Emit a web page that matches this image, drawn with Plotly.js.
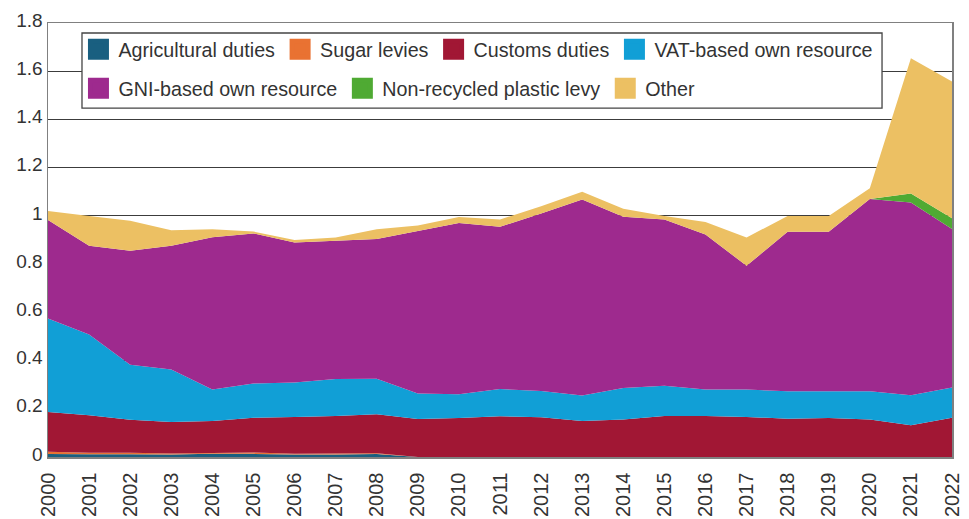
<!DOCTYPE html>
<html>
<head>
<meta charset="utf-8">
<script src="https://cdn.plot.ly/plotly-3.0.1.min.js"></script>
<style>html,body{margin:0;padding:0;background:#fff;}#chart{width:969px;height:519px;}</style>
</head>
<body>
<div id="chart"></div>
<script>
var years = [2000,2001,2002,2003,2004,2005,2006,2007,2008,2009,2010,2011,2012,2013,2014,2015,2016,2017,2018,2019,2020,2021,2022];
var tickLabels = ["2000","2001","2002","2003","2004","2005","2006","2007","2008","2009","2010","2011","2012","2013","2014","2015","2016","2017","2018","2019","2020","2021","2022"];
var agricultural = [0.012,0.011,0.011,0.010,0.013,0.013,0.010,0.010,0.012,0,0,0,0,0,0,0,0,0,0,0,0,0,0];
var sugar = [0.010,0.007,0.007,0.005,0.004,0.006,0.003,0.004,0.004,0,0,0,0,0,0,0,0,0,0,0,0,0,0];
var customs = [0.165,0.155,0.137,0.130,0.132,0.144,0.153,0.156,0.161,0.158,0.162,0.169,0.165,0.149,0.156,0.170,0.170,0.166,0.159,0.162,0.156,0.132,0.163];
var vat = [0.387,0.335,0.228,0.218,0.131,0.142,0.143,0.153,0.148,0.105,0.098,0.113,0.109,0.106,0.130,0.125,0.110,0.114,0.114,0.111,0.117,0.124,0.125];
var gni = [0.409,0.368,0.472,0.513,0.631,0.622,0.581,0.574,0.579,0.674,0.711,0.673,0.736,0.813,0.710,0.690,0.643,0.513,0.661,0.661,0.797,0.800,0.658];
var plastic = [0,0,0,0,0,0,0,0,0,0,0,0,0,0,0,0,0,0,0,0,0,0.037,0.044];
var other = [0.037,0.124,0.125,0.064,0.034,0.008,0.010,0.013,0.041,0.023,0.024,0.030,0.030,0.032,0.034,0.015,0.052,0.117,0.066,0.066,0.045,0.561,0.567];

var names = ["Agricultural duties","Sugar levies","Customs duties","VAT-based own resource","GNI-based own resource","Non-recycled plastic levy","Other"];
var series = [agricultural, sugar, customs, vat, gni, plastic, other];
var colors = ["#195f80","#e97232","#a11734","#119fd6","#9e2a8e","#4faa33","#ecc063"];
var legendOf = ["legend","legend","legend","legend","legend2","legend2","legend2"];

var traces = [];
for (var i = 0; i < series.length; i++) {
  traces.push({
    type: "scatter", x: years, y: series[i], name: names[i],
    stackgroup: "one", mode: "none", fillcolor: colors[i],
    line: {width: 0}, showlegend: false, legendgroup: "g" + i, hoverinfo: "skip"
  });
}
for (var j = 0; j < series.length; j++) {
  traces.push({
    type: "scatter", x: [null], y: [null], name: names[j], mode: "markers",
    marker: {symbol: "square", size: 16, color: colors[j], line: {color: colors[j], width: 5}},
    legend: legendOf[j], legendgroup: "g" + j, showlegend: true, hoverinfo: "skip"
  });
}

var font = "Liberation Sans, Arial, sans-serif";
var legendCommon = {
  orientation: "h", xanchor: "left", yanchor: "top",
  bgcolor: "rgba(0,0,0,0)", borderwidth: 0,
  font: {family: font, size: 19.7, color: "#333"}, traceorder: "normal"
};
var layout = {
  width: 969, height: 519,
  margin: {l: 48, r: 17, t: 23, b: 62},
  paper_bgcolor: "#fff", plot_bgcolor: "#fff",
  showlegend: true, hovermode: false,
  font: {family: font, color: "#333"},
  xaxis: {
    range: [2000, 2022], tickmode: "array", tickvals: years, ticktext: tickLabels,
    tickangle: -90, tickfont: {family: font, size: 20, color: "#333"},
    showgrid: false, zeroline: false, showline: true, mirror: true,
    linecolor: "#808080", linewidth: 1.5, ticks: "", ticklabelstandoff: 6
  },
  yaxis: {
    range: [0, 1.8], dtick: 0.2, tick0: 0,
    tickfont: {family: font, size: 19, color: "#333"},
    showgrid: true, gridcolor: "#3c3c3c", gridwidth: 1, zeroline: false,
    showline: true, mirror: true, linecolor: "#808080", linewidth: 1.5, ticks: "",
    ticklabelshift: -3
  },
  legend: Object.assign({x: 0.0337, y: 0.984}, legendCommon),
  legend2: Object.assign({x: 0.0337, y: 0.894}, legendCommon),
  shapes: [{
    type: "rect", xref: "paper", yref: "paper", layer: "above",
    x0: 0.0376, x1: 0.9226, y0: 0.804, y1: 0.977,
    fillcolor: "#fff", line: {color: "#444", width: 1.3}
  }]
};
Plotly.newPlot("chart", traces, layout, {displayModeBar: false, staticPlot: true});
</script>
</body>
</html>
